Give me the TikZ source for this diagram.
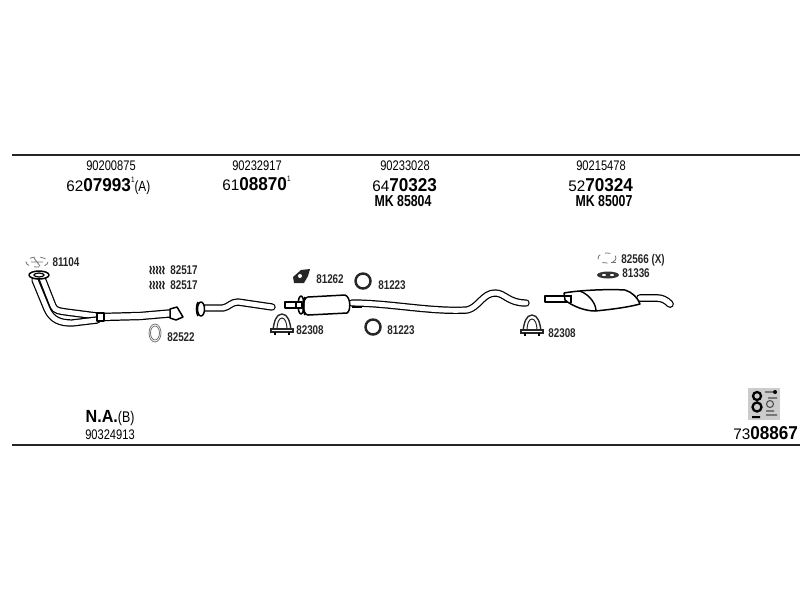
\documentclass[tikz,border=0pt]{standalone}
\usepackage{fontspec}
\setmainfont{Liberation Sans}
\newfontfamily\narrowfont[FakeStretch=0.8]{Liberation Sans}
\newfontfamily\boldfont[FakeStretch=0.92]{Liberation Sans Bold}
\newfontfamily\partfont[FakeStretch=0.78]{Liberation Sans Bold}
\newcommand{\smallnum}[1]{{\fontsize{8.7}{9}\selectfont #1}}
\newcommand{\bignum}[1]{{\fontsize{10.6}{11}\boldfont #1}}
\newcommand{\tinyone}{\raisebox{0.9ex}{\fontsize{4.5}{5}\narrowfont 1}}
\tikzset{
    refno/.style={inner sep=0pt,font=\fontsize{7.9}{9}\narrowfont},
    codeno/.style={inner sep=0pt,anchor=base west},
    mkno/.style={inner sep=0pt,font=\fontsize{9}{9}\partfont},
    partno/.style={inner sep=0pt,font=\fontsize{7.2}{9}\partfont,text=black!85},
    rule/.style={line width=1.2pt,black!85},
    pipe/.style={draw=black,line width=0.7pt,double=white,double distance=#1,line join=round,line cap=round},
    pipe/.default=2.6pt,
    shell/.style={draw=black,line width=0.85pt,fill=white,line join=round},
    thin part/.style={draw=black!55,line width=0.45pt},
    ringpart/.style={draw=black!85,line width=1.4pt,fill=white},
    clamp/.pic={
        \draw[black!85,line width=0.8pt] (-9,5) .. controls (-8,-3) and (-6,-11) .. (0,-11) .. controls (6,-11) and (8,-3) .. (9,5);
        \draw[black!85,line width=0.55pt] (-5,4) .. controls (-5,-2) and (-3,-7) .. (0,-7) .. controls (3,-7) and (5,-2) .. (5,4);
        \draw[black!85,line width=0.7pt,fill=white] (-11,4) rectangle (11,7);
        \draw[black,line width=1.1pt] (-7,7) -- (-7,10) (7,7) -- (7,10);
    },
    springs/.pic={
        \foreach \xpos in {0,3.2,6.4,9.6,12.8}
            \draw[black!85,line width=0.8pt] (\xpos,-4) -- (\xpos+1.2,-1.5) -- (\xpos,1.5) -- (\xpos+1.2,4);
    }
}
\begin{document}
\begin{tikzpicture}[x=0.02cm,y=-0.02cm]
    \useasboundingbox (0,0) rectangle (800,600);
    \draw[rule] (12,155) -- (800,155);
    \draw[rule] (12,445) -- (800,445);

    % top row of numbers
    \node[refno] (ref_a) at (111,166) {90200875};
    \node[codeno] (code_a) at (66,191) {\smallnum{62}\bignum{07993}\tinyone{\fontsize{8.4}{9}\narrowfont(A)}};
    \node[refno] (ref_b) at (257,166) {90232917};
    \node[codeno] (code_b) at (222,190) {\smallnum{61}\bignum{08870}\tinyone};
    \node[refno] (ref_c) at (405,166) {90233028};
    \node[codeno] (code_c) at (372,191) {\smallnum{64}\bignum{70323}};
    \node[mkno] (mk_c) at (403,201) {MK 85804};
    \node[refno] (ref_d) at (601,166) {90215478};
    \node[codeno] (code_d) at (568,191) {\smallnum{52}\bignum{70324}};
    \node[mkno] (mk_d) at (604,201) {MK 85007};

    % front pipe
    \draw[pipe=2.8pt] (42,278) -- (53,306) .. controls (55,311) and (60,311) .. (66,312) -- (97,316);
    \draw[pipe=2.8pt] (35,280) -- (47,309) .. controls (52,320) and (60,323) .. (72,323) -- (97,320);
    \draw[pipe=3.4pt] (100,317) -- (140,316) -- (175,313);
    \draw[shell] (97,313) rectangle (104,321);
    \draw[shell] (170,309) -- (177,307) -- (183,317) -- (176,320) -- (170,318) -- cycle;
    \draw[shell] (39,275) ellipse (10 and 4);
    \draw[black,line width=0.7pt] (39,275) ellipse (5 and 2);
    \draw[thin part,dashed] (37,262) ellipse (11 and 5);
    \draw[thin part] (31,262) -- (43,262) (34,258) -- (40,266);
    \node[partno] (p_81104) at (66,262) {81104};

    % springs and gasket
    \pic at (150,270) {springs};
    \pic at (150,285) {springs};
    \node[partno] (p_82517a) at (184,270) {82517};
    \node[partno] (p_82517b) at (184,285) {82517};
    \draw[thin part] (155,333) ellipse (6 and 9);
    \draw[thin part] (155,333) ellipse (4.5 and 7);
    \node[partno] (p_82522) at (181,337) {82522};

    % second pipe
    \draw[pipe=2.8pt] (203,308) -- (223,308) .. controls (229,307) and (231,302) .. (238,302) -- (272,307);
    \draw[shell] (201,309) ellipse (3.5 and 7);
    \draw[black,line width=0.9pt] (198,302) .. controls (196,306) and (196,312) .. (198,316);

    % centre muffler and pipe
    \draw[pipe=2.8pt] (352,303) .. controls (390,303) and (430,312) .. (467,310) .. controls (478,308) and (483,293) .. (495,293) .. controls (505,293) and (508,303) .. (526,303);
    \draw[shell] (285,302) rectangle (296,308);
    \draw[shell] (308,297) -- (345,295) .. controls (351,297) and (351,311) .. (347,313) -- (308,315) .. controls (302,315) and (302,297) .. (308,297);
    \draw[shell] (301,305) ellipse (3 and 9);
    \draw[shell] (296,302) rectangle (302,308);
    \draw[black,line width=0.9pt] (305,297) .. controls (302,302) and (302,310) .. (305,315);
    \draw[black,line width=1.1pt] (352,307) -- (362,307);

    % parts around the centre
    \fill[black!85] (293,277) -- (301,270) -- (310,269) -- (308,276) -- (304,283) -- (294,283) -- cycle;
    \fill[white] (300,276) circle (2);
    \node[partno] (p_81262) at (330,279) {81262};
    \draw[ringpart] (363,281) circle (7.5);
    \node[partno] (p_81223a) at (392,285) {81223};
    \draw[ringpart] (373,327) circle (7.5);
    \node[partno] (p_81223b) at (401,330) {81223};
    \pic at (282,325) {clamp};
    \node[partno] (p_82308a) at (310,330) {82308};
    \pic at (532,326) {clamp};
    \node[partno] (p_82308b) at (562,333) {82308};

    % rear muffler
    \draw[pipe=3pt] (640,298) -- (657,298) .. controls (662,298) and (666,300) .. (670,304);
    \draw[shell] (545,296) rectangle (572,302);
    \draw[shell] (564,293) .. controls (580,290) and (610,289) .. (625,290) .. controls (632,292) and (638,298) .. (640,304) .. controls (625,308) and (605,310) .. (595,311) .. controls (585,311) and (572,306) .. (565,300) -- cycle;
    \draw[black,line width=0.8pt] (580,291) .. controls (590,295) and (596,304) .. (596,311);
    \draw[black,line width=0.8pt] (564,296) -- (571,296) -- (571,303);
    \draw[thin part,dashed] (607,258) ellipse (9 and 5);
    \draw[thin part] (611,262) -- (616,262);
    \node[partno] (p_82566) at (643,260) {82566 (X)};
    \fill[black!80] (608,275) ellipse (11 and 3.5);
    \fill[white] (604,275) ellipse (2 and 1) (612,275) ellipse (2 and 1);
    \node[partno] (p_81336) at (636,273) {81336};

    % bottom row
    \node[inner sep=0pt] (na) at (110,418) {{\fontsize{10}{11}\boldfont N.A.}{\fontsize{8.8}{9}\narrowfont(B)}};
    \node[refno] (ref_e) at (110,435) {90324913};
    \fill[black!20] (748,388) rectangle (780,420);
    \draw[black,line width=1.3pt] (757,396) circle (4) (757,407) circle (4.5);
    \draw[black!70,line width=0.6pt] (765,392) -- (776,392) (768,398) -- (777,398) (770,404) circle (3.5) (766,415) -- (777,415) (766,411) -- (774,411);
    \fill[black] (775,392) circle (2) (752,416) rectangle (760,418);
    \node[codeno] (code_e) at (733,439) {\smallnum{73}\bignum{08867}};
\end{tikzpicture}
\end{document}
